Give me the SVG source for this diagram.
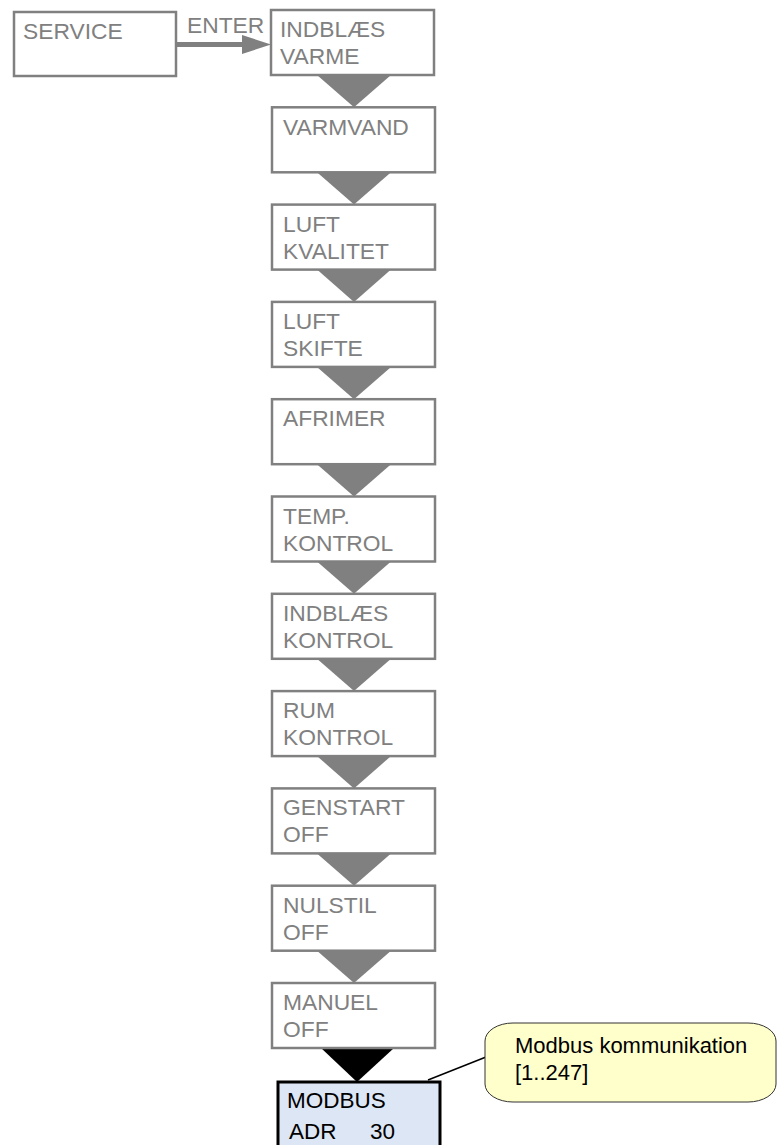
<svg xmlns="http://www.w3.org/2000/svg" width="778" height="1145" viewBox="0 0 778 1145">
<style>
.box{fill:#fff;stroke:#808080;stroke-width:2.5}
.t{font-family:"Liberation Sans",Arial,sans-serif;font-size:22.8px;fill:#808080}
.tb{font-family:"Liberation Sans",Arial,sans-serif;font-size:22.5px;fill:#000}
.tc{font-family:"Liberation Sans",Arial,sans-serif;font-size:22px;fill:#000}
.tri{fill:#808080}
</style>
<rect width="778" height="1145" fill="#fff"/>
<g id="connectors">
<line x1="176" y1="44.5" x2="246" y2="44.5" stroke="#808080" stroke-width="5"/>
<polygon points="242,35 271,44.5 242,54" fill="#808080"/>
<text class="t" x="187" y="33">ENTER</text>
<polygon class="tri" points="317,75 391,75 354,107.3"/>
<polygon class="tri" points="317,172.3 391,172.3 354,204.6"/>
<polygon class="tri" points="317,269.6 391,269.6 354,301.9"/>
<polygon class="tri" points="317,366.9 391,366.9 354,399.2"/>
<polygon class="tri" points="317,464.2 391,464.2 354,496.5"/>
<polygon class="tri" points="317,561.5 391,561.5 354,593.8"/>
<polygon class="tri" points="317,658.8 391,658.8 354,691.1"/>
<polygon class="tri" points="317,756.1 391,756.1 354,788.4"/>
<polygon class="tri" points="317,853.4 391,853.4 354,885.7"/>
<polygon class="tri" points="317,950.7 391,950.7 354,983"/>
<polygon points="321,1048 394,1048 357,1082" fill="#000"/>
<line x1="428" y1="1080" x2="486" y2="1057" stroke="#000" stroke-width="1.5"/>
</g>
<g id="service">
<rect class="box" x="14" y="12" width="162" height="64"/>
<text class="t" x="23" y="39">SERVICE</text>
</g>
<g id="indblaes-varme">
<rect class="box" x="271" y="10" width="163" height="65"/>
<text class="t" x="280" y="37">INDBLÆS</text>
<text class="t" x="280" y="64">VARME</text>
</g>
<g id="varmvand">
<rect class="box" x="272" y="107.3" width="163" height="65"/>
<text class="t" x="283" y="135">VARMVAND</text>
</g>
<g id="luft-kvalitet">
<rect class="box" x="272" y="204.6" width="163" height="65"/>
<text class="t" x="283" y="231.6">LUFT</text>
<text class="t" x="283" y="258.6">KVALITET</text>
</g>
<g id="luft-skifte">
<rect class="box" x="272" y="301.9" width="163" height="65"/>
<text class="t" x="283" y="328.9">LUFT</text>
<text class="t" x="283" y="355.9">SKIFTE</text>
</g>
<g id="afrimer">
<rect class="box" x="272" y="399.2" width="163" height="65"/>
<text class="t" x="283" y="426.2">AFRIMER</text>
</g>
<g id="temp-kontrol">
<rect class="box" x="272" y="496.5" width="163" height="65"/>
<text class="t" x="283" y="523.5">TEMP.</text>
<text class="t" x="283" y="550.5">KONTROL</text>
</g>
<g id="indblaes-kontrol">
<rect class="box" x="272" y="593.8" width="163" height="65"/>
<text class="t" x="283" y="620.8">INDBLÆS</text>
<text class="t" x="283" y="647.8">KONTROL</text>
</g>
<g id="rum-kontrol">
<rect class="box" x="272" y="691.1" width="163" height="65"/>
<text class="t" x="283" y="718.1">RUM</text>
<text class="t" x="283" y="745.1">KONTROL</text>
</g>
<g id="genstart">
<rect class="box" x="272" y="788.4" width="163" height="65"/>
<text class="t" x="283" y="815.4">GENSTART</text>
<text class="t" x="283" y="842.4">OFF</text>
</g>
<g id="nulstil">
<rect class="box" x="272" y="885.7" width="163" height="65"/>
<text class="t" x="283" y="912.7">NULSTIL</text>
<text class="t" x="283" y="939.7">OFF</text>
</g>
<g id="manuel">
<rect class="box" x="272" y="983" width="163" height="65"/>
<text class="t" x="283" y="1010">MANUEL</text>
<text class="t" x="283" y="1037">OFF</text>
</g>
<g id="modbus">
<rect x="278" y="1082" width="162" height="70" fill="#DCE6F4" stroke="#000" stroke-width="3"/>
<text class="tb" x="287" y="1108">MODBUS</text>
<text class="tb" x="289" y="1139">ADR<tspan x="370">30</tspan></text>
</g>
<g id="callout">
<rect x="485" y="1023" width="291" height="79" rx="28" ry="18" fill="#FFFFCC" stroke="#333" stroke-width="1"/>
<text class="tc" x="515" y="1053">Modbus kommunikation</text>
<text class="tc" x="515" y="1080">[1..247]</text>
</g>
</svg>
